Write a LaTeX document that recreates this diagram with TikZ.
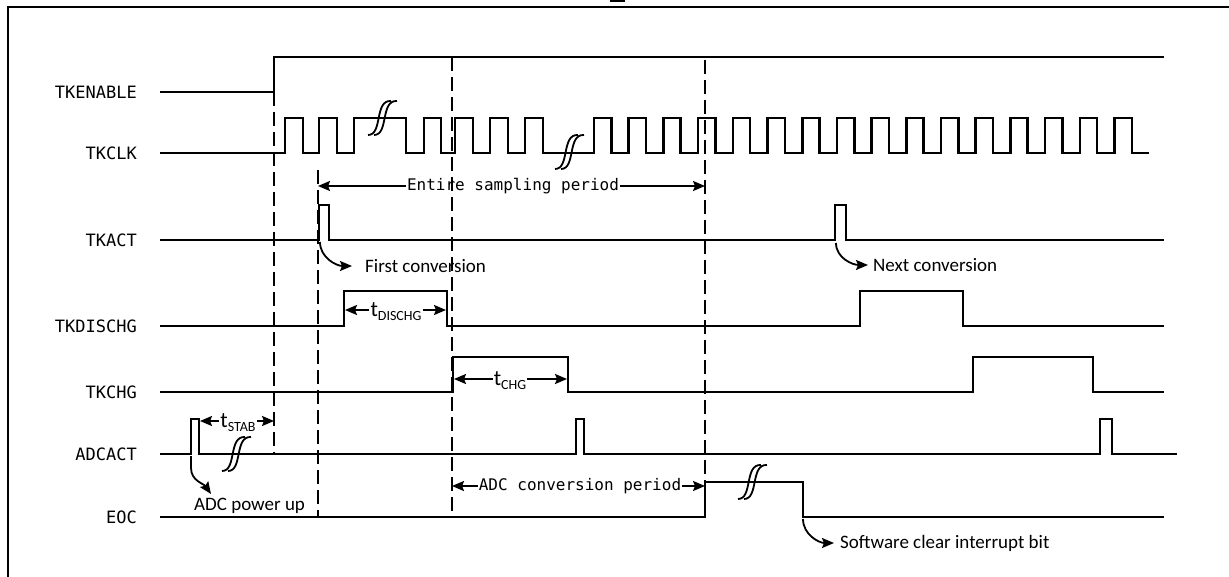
\documentclass[tikz,border=0pt]{standalone}
\usepackage{fontspec}
\usetikzlibrary{arrows.meta}
\newfontfamily\sigfont{DejaVu Sans Mono}
\newfontfamily\notefont{Carlito}
\newcommand\tsub[1]{{\notefont\fontsize{22}{22}\selectfont t\raisebox{-4pt}[0pt][0pt]{\fontsize{14}{14}\selectfont #1}}}

\begin{document}
\begin{tikzpicture}[x=1pt, y=-1pt,
    wave/.style={line width=2.6pt},
    marker/.style={line width=2.8pt, dash pattern=on 14pt off 6pt},
    sig/.style={anchor=east, inner sep=0pt, font={\sigfont\fontsize{17}{17}\selectfont}},
    span/.style={inner sep=1pt, font={\sigfont\fontsize{16}{16}\selectfont}},
    note/.style={anchor=west, inner sep=0pt, font={\notefont\fontsize{19}{19}\selectfont}},
    dim/.style={line width=2pt, -{Stealth[length=12pt, width=10pt, inset=2pt]}},
    callout/.style={line width=1.8pt, -{Stealth[length=12pt, width=10pt, inset=2pt]}},
    brk/.pic={
        \draw[line width=1.8pt] (-15,17) .. controls (0,17) and (-9,-18) .. (8,-17);
        \draw[line width=1.8pt] (-9,17) .. controls (6,17) and (-3,-18) .. (14,-17);
    }
]
\useasboundingbox (0,0) rectangle (1229,577);
\draw[line width=2.8pt] (8,590) -- (8,7) -- (1240,7);
\fill (610,0) rectangle (625,2);

% signal names
\node[sig] (enable) at (137,92) {TKENABLE};
\node[sig] (clk) at (137,153) {TKCLK};
\node[sig] (act) at (137,240) {TKACT};
\node[sig] (dischg) at (137,326) {TKDISCHG};
\node[sig] (chg) at (137,392) {TKCHG};
\node[sig] (adcact) at (137,454) {ADCACT};
\node[sig] (eoc) at (137,517) {EOC};

% waveforms
\draw[wave] (160,92) -- (274,92) -- (274,57) -- (1164,57);
\draw[wave] (160,153)
    \foreach \r/\f in {285/303,319/337,354/406,424/441,455/473,490/508,525/543}
        { -- (\r,153) -- (\r,118) -- (\f,118) -- (\f,153) }
    \foreach \k in {0,...,15}
        { -- ({594+34.7*\k},153) -- ({594+34.7*\k},118) -- ({611.35+34.7*\k},118) -- ({611.35+34.7*\k},153) }
    -- (1149,153);
\draw[wave] (160,240) -- (319,240) -- (319,205) -- (329,205) -- (329,240)
    -- (835,240) -- (835,205) -- (846,205) -- (846,240) -- (1164,240);
\draw[wave] (160,326) -- (344,326) -- (344,291) -- (447,291) -- (447,326)
    -- (860,326) -- (860,291) -- (963,291) -- (963,326) -- (1164,326);
\draw[wave] (160,392) -- (453,392) -- (453,357) -- (568,357) -- (568,392)
    -- (973,392) -- (973,357) -- (1093,357) -- (1093,392) -- (1164,392);
\draw[wave] (160,454) -- (191,454) -- (191,419) -- (199,419) -- (199,454)
    -- (576,454) -- (576,419) -- (584,419) -- (584,454)
    -- (1100,454) -- (1100,419) -- (1112,419) -- (1112,454) -- (1177,454);
\draw[wave] (160,517) -- (705,517) -- (705,482) -- (803,482) -- (803,517) -- (1164,517);

\pic at (383,118) {brk};
\pic at (570,152) {brk};
\pic at (237,454) {brk};
\pic at (753,482) {brk};

% timing marks
\draw[marker] (274,92) -- (274,455);
\draw[marker] (318,170) -- (318,517);
\draw[marker] (452,57) -- (452,517);
\draw[marker] (705,60) -- (705,482);

% spans
\node[span] (sample) at (513,186) {Entire sampling period};
\draw[dim] (sample.west) -- (318,186);
\draw[dim] (sample.east) -- (705,186);
\node[span] (conv) at (580,486) {ADC conversion period};
\draw[dim] (conv.west) -- (452,486);
\draw[dim] (conv.east) -- (705,486);
\node[inner sep=1pt] (tdis) at (396,310) {\tsub{DISCHG}};
\draw[dim] (tdis.west) -- (345,310);
\draw[dim] (tdis.east) -- (446,310);
\node[inner sep=1pt] (tchg) at (510,379) {\tsub{CHG}};
\draw[dim] (tchg.west) -- (454,379);
\draw[dim] (tchg.east) -- (567,379);
\node[inner sep=1pt] (tstab) at (238,421) {\tsub{STAB}};
\draw[dim] (tstab.west) -- (200,421);
\draw[dim] (tstab.east) -- (274,421);

% notes
\coordinate (act1) at (320,242);
\coordinate (act2) at (836,243);
\coordinate (adc0) at (191,456);
\coordinate (eoc1) at (803,519);
\coordinate (pwrtip) at (211,494);
\node[note] (first) at (365,266) {First conversion};
\node[note] (next) at (873,265) {Next conversion};
\node[note] (pwr) at (194,506) {ADC power up};
\node[note] (swclr) at (840,543) {Software clear interrupt bit};
\draw[callout] (act1) to[out=-90, in=180] ([xshift=-13pt]first.west);
\draw[callout] (act2) to[out=-90, in=180] ([xshift=-5pt]next.west);
\draw[callout] (adc0) -- (191,468) to[out=-90, in=125] (pwrtip);
\draw[callout] (eoc1) to[out=-90, in=180] ([xshift=-6pt]swclr.west);
\end{tikzpicture}
\end{document}
